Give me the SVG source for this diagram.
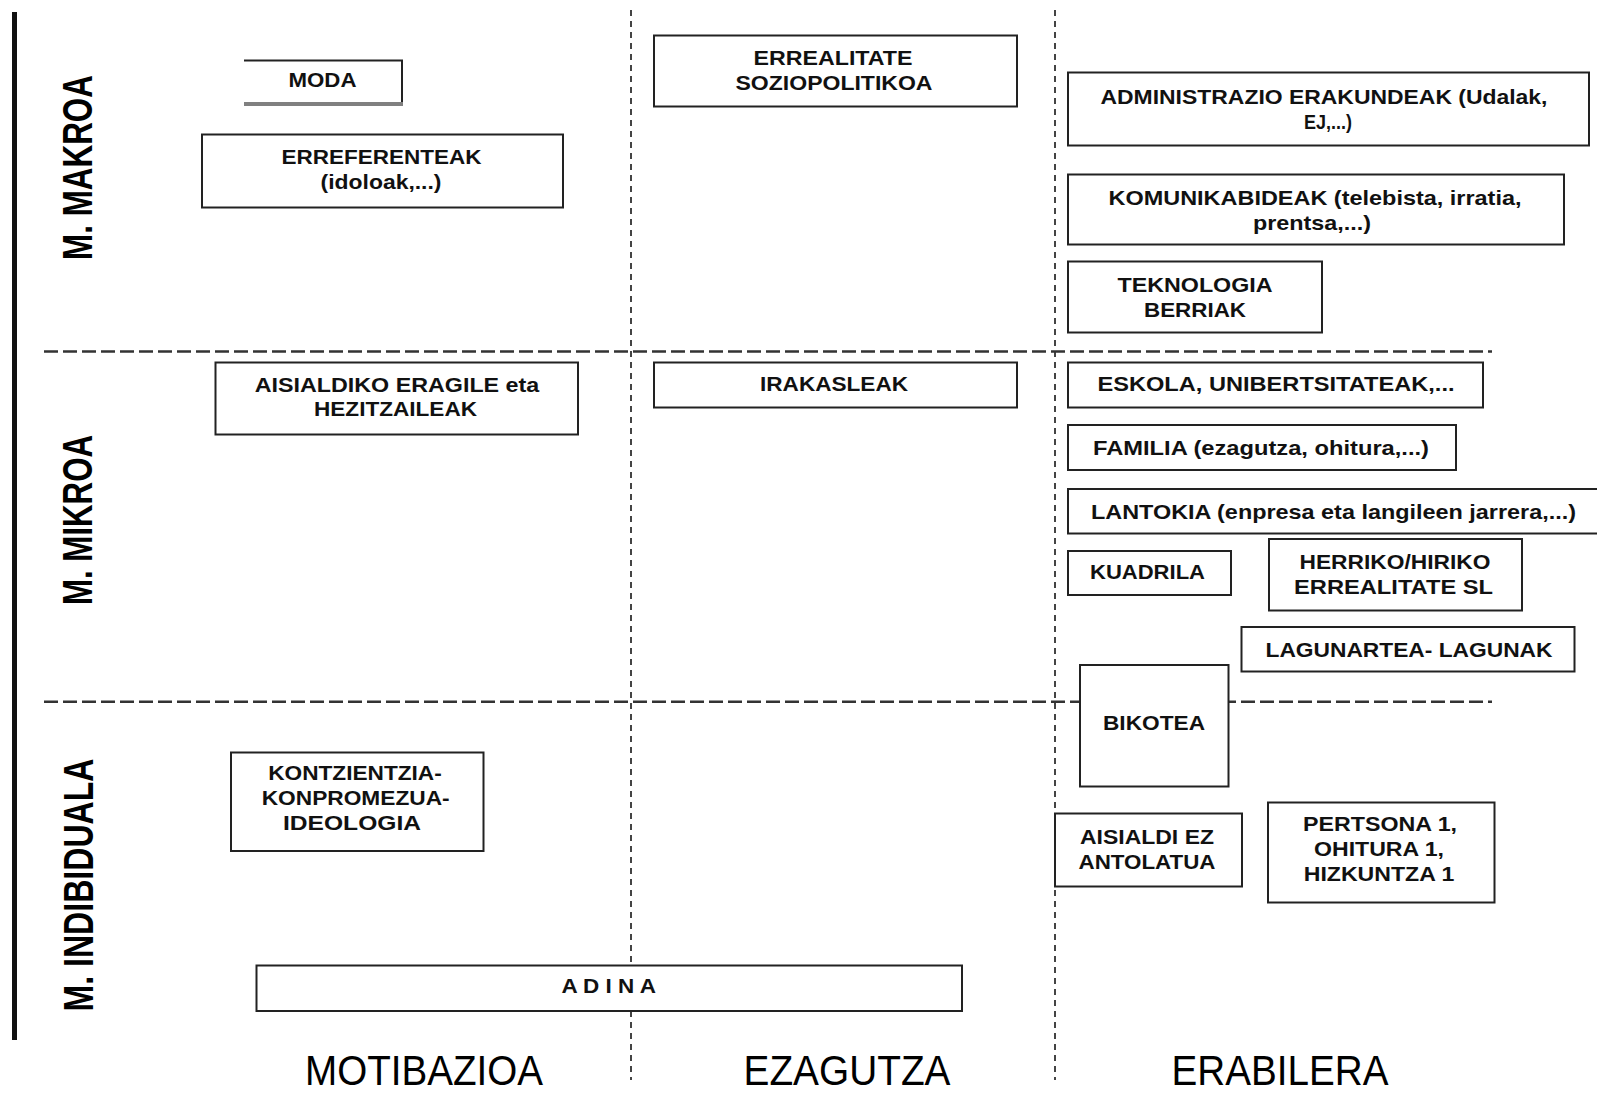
<svg xmlns="http://www.w3.org/2000/svg" width="1597" height="1094" viewBox="0 0 1597 1094">
<style>
.box{fill:#fff;stroke:#222;stroke-width:2}
.n{font-family:"Liberation Sans Narrow","Liberation Sans",Arial,sans-serif;font-weight:bold;font-size:21px;fill:#111;text-anchor:middle}
.w{font-family:"Liberation Sans",Arial,sans-serif;font-weight:bold;font-size:21px;fill:#111;text-anchor:middle}
.side{font-family:"Liberation Sans",Arial,sans-serif;font-weight:bold;font-size:43px;fill:#000;text-anchor:middle}
.col{font-family:"Liberation Sans Narrow","Liberation Sans",Arial,sans-serif;font-size:42px;fill:#000;text-anchor:middle}
.hd{stroke:#333;stroke-width:2.5;stroke-dasharray:14 5;fill:none}
.vd{stroke:#444;stroke-width:2;stroke-dasharray:6 5;fill:none}
</style>
<rect width="1597" height="1094" fill="#fff"/>
<rect x="12" y="12" width="5" height="1028" fill="#111"/>
<g id="grid">
<line class="vd" x1="631" y1="10" x2="631" y2="1080"/>
<line class="vd" x1="1055" y1="10" x2="1055" y2="1080"/>
<line class="hd" x1="44" y1="351.5" x2="1492" y2="351.5"/>
<line class="hd" x1="44" y1="701.7" x2="1492" y2="701.7"/>
</g>
<g id="labels">
<text class="side" transform="translate(92,167.5) rotate(-90)" textLength="185" lengthAdjust="spacingAndGlyphs">M. MAKROA</text>
<text class="side" transform="translate(92,520) rotate(-90)" textLength="170" lengthAdjust="spacingAndGlyphs">M. MIKROA</text>
<text class="side" transform="translate(92.5,885) rotate(-90)" textLength="253" lengthAdjust="spacingAndGlyphs">M. INDIBIDUALA</text>
<text class="col" x="424" y="1085" textLength="238" lengthAdjust="spacingAndGlyphs">MOTIBAZIOA</text>
<text class="col" x="847" y="1085" textLength="207" lengthAdjust="spacingAndGlyphs">EZAGUTZA</text>
<text class="col" x="1280" y="1085" textLength="217" lengthAdjust="spacingAndGlyphs">ERABILERA</text>
</g>
<g id="moda">
<path d="M244,60.5 H402 V104" fill="#fff" stroke="#222" stroke-width="2"/>
<line x1="244" y1="104" x2="403" y2="104" stroke="#808080" stroke-width="4"/>
<text class="w" x="322.5" y="87" textLength="68" lengthAdjust="spacingAndGlyphs">MODA</text>
</g>
<g id="erreferenteak">
<rect class="box" x="202" y="134.5" width="361" height="73"/>
<text class="n" x="381.6" y="164" textLength="200" lengthAdjust="spacingAndGlyphs">ERREFERENTEAK</text>
<text class="n" x="381" y="189" font-size="20" textLength="121" lengthAdjust="spacingAndGlyphs">(idoloak,...)</text>
</g>
<g id="errealitate">
<rect class="box" x="654" y="35.5" width="363" height="71"/>
<text class="n" x="833" y="64.5" textLength="159" lengthAdjust="spacingAndGlyphs">ERREALITATE</text>
<text class="n" x="834" y="89.5" textLength="197" lengthAdjust="spacingAndGlyphs">SOZIOPOLITIKOA</text>
</g>
<g id="administrazio">
<rect class="box" x="1068" y="72.5" width="521" height="73"/>
<text class="n" x="1324" y="104" textLength="447" lengthAdjust="spacingAndGlyphs">ADMINISTRAZIO ERAKUNDEAK (Udalak,</text>
<text class="n" x="1328" y="129" textLength="48" lengthAdjust="spacingAndGlyphs">EJ,...)</text>
</g>
<g id="komunikabideak">
<rect class="box" x="1068" y="174.5" width="496" height="70"/>
<text class="n" x="1315" y="204.5" textLength="413" lengthAdjust="spacingAndGlyphs">KOMUNIKABIDEAK (telebista, irratia,</text>
<text class="n" x="1312" y="229.5" textLength="118" lengthAdjust="spacingAndGlyphs">prentsa,...)</text>
</g>
<g id="teknologia">
<rect class="box" x="1068" y="261.5" width="254" height="71"/>
<text class="n" x="1195" y="292" textLength="155" lengthAdjust="spacingAndGlyphs">TEKNOLOGIA</text>
<text class="n" x="1195" y="317" textLength="102" lengthAdjust="spacingAndGlyphs">BERRIAK</text>
</g>
<g id="aisialdiko">
<rect class="box" x="215.5" y="362.5" width="362.5" height="72"/>
<text class="n" x="397" y="391.5" textLength="284.5" lengthAdjust="spacingAndGlyphs">AISIALDIKO ERAGILE eta</text>
<text class="n" x="395.5" y="416" textLength="163" lengthAdjust="spacingAndGlyphs">HEZITZAILEAK</text>
</g>
<g id="irakasleak">
<rect class="box" x="654" y="362.5" width="363" height="45"/>
<text class="n" x="834" y="391" textLength="148" lengthAdjust="spacingAndGlyphs">IRAKASLEAK</text>
</g>
<g id="eskola">
<rect class="box" x="1068" y="362.5" width="415" height="45"/>
<text class="n" x="1276" y="391" textLength="357" lengthAdjust="spacingAndGlyphs">ESKOLA, UNIBERTSITATEAK,...</text>
</g>
<g id="familia">
<rect class="box" x="1068" y="425" width="388" height="45"/>
<text class="n" x="1261" y="455" textLength="336" lengthAdjust="spacingAndGlyphs">FAMILIA (ezagutza, ohitura,...)</text>
</g>
<g id="lantokia">
<rect class="box" x="1068" y="489" width="560" height="44.5"/>
<text class="n" x="1333.5" y="519" textLength="485" lengthAdjust="spacingAndGlyphs">LANTOKIA (enpresa eta langileen jarrera,...)</text>
</g>
<g id="kuadrila">
<rect class="box" x="1068" y="551" width="163" height="44"/>
<text class="n" x="1147.5" y="579" textLength="115" lengthAdjust="spacingAndGlyphs">KUADRILA</text>
</g>
<g id="herriko">
<rect class="box" x="1269" y="539" width="253" height="71.5"/>
<text class="n" x="1395" y="568.5" textLength="191" lengthAdjust="spacingAndGlyphs">HERRIKO/HIRIKO</text>
<text class="n" x="1393.5" y="593.5" textLength="199" lengthAdjust="spacingAndGlyphs">ERREALITATE SL</text>
</g>
<g id="lagunartea">
<rect class="box" x="1241.5" y="627" width="333" height="44.5"/>
<text class="n" x="1409" y="656.5" textLength="287" lengthAdjust="spacingAndGlyphs">LAGUNARTEA- LAGUNAK</text>
</g>
<g id="bikotea">
<rect class="box" x="1080" y="665" width="148.5" height="121.5"/>
<text class="w" x="1154" y="730" textLength="102" lengthAdjust="spacingAndGlyphs">BIKOTEA</text>
</g>
<g id="aisialdi-ez">
<rect class="box" x="1055" y="813.5" width="187" height="73"/>
<text class="w" x="1147" y="844" textLength="134" lengthAdjust="spacingAndGlyphs">AISIALDI EZ</text>
<text class="w" x="1147" y="869" textLength="137" lengthAdjust="spacingAndGlyphs">ANTOLATUA</text>
</g>
<g id="pertsona">
<rect class="box" x="1268" y="802.5" width="226.5" height="100"/>
<text class="w" x="1380" y="831" font-size="22" textLength="154" lengthAdjust="spacingAndGlyphs">PERTSONA 1,</text>
<text class="w" x="1379" y="856" font-size="22" textLength="130" lengthAdjust="spacingAndGlyphs">OHITURA 1,</text>
<text class="w" x="1379" y="881" font-size="22" textLength="150.5" lengthAdjust="spacingAndGlyphs">HIZKUNTZA 1</text>
</g>
<g id="kontzientzia">
<rect class="box" x="231" y="752.5" width="252.5" height="98.5"/>
<text class="n" x="355" y="780" font-size="19" textLength="173.5" lengthAdjust="spacingAndGlyphs">KONTZIENTZIA-</text>
<text class="n" x="355.7" y="805" font-size="19" textLength="188" lengthAdjust="spacingAndGlyphs">KONPROMEZUA-</text>
<text class="n" x="352" y="830" font-size="19" textLength="138" lengthAdjust="spacingAndGlyphs">IDEOLOGIA</text>
</g>
<g id="adina">
<rect class="box" x="256.5" y="965.5" width="705.5" height="45.5"/>
<text class="n" x="608.7" y="993" textLength="94.5" lengthAdjust="spacingAndGlyphs">A D I N A</text>
</g>
</svg>
